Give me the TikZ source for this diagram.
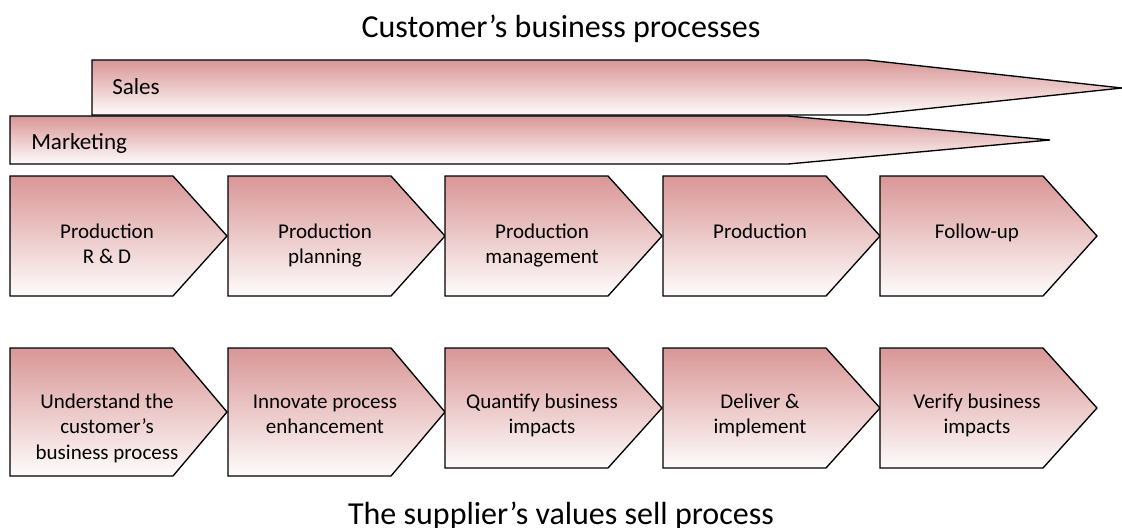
\documentclass[tikz,border=0pt]{standalone}
\usepackage{fontspec}
\setmainfont{Carlito}
\definecolor{rose}{RGB}{217,150,150}
\tikzset{
  band/.style={draw=black,line width=1pt,top color=rose,bottom color=white!97!rose},
  lbl/.style={align=center,inner sep=0pt,anchor=base,font=\fontsize{15.75}{19.1}\selectfont},
  bandlbl/.style={inner sep=0pt,anchor=base west,font=\fontsize{17.3}{21}\selectfont},
  heading/.style={inner sep=0pt,anchor=base,font=\fontsize{24}{29}\selectfont}
}
\begin{document}
\begin{tikzpicture}[x=0.75pt,y=-0.75pt]
\useasboundingbox (0,0) rectangle (1122,528);
\node[heading] (cust) at (561,38) {Customer’s business processes};
\shadedraw[band] (10,116) -- (788,116) -- (1050,140) -- (788,164) -- (10,164) -- cycle;
\shadedraw[band] (92,60) -- (867,60) -- (1122,88) -- (867,115) -- (92,115) -- cycle;
\node[bandlbl] (sales) at (112,94) {Sales};
\node[bandlbl] (mkt) at (31,150) {Marketing};
\foreach \x/\n/\t [count=\i] in {10/1/{Production\\R \& D}, 228/1/{Production\\planning},
    445/1/{Production\\management}, 663/0/Production, 880/0/Follow-up}{
  \shadedraw[band] (\x,176) -- ++(163,0) -- ++(54,60) -- ++(-54,60) -- ++(-163,0) -- cycle;
  \node[lbl] (prod\i) at (\x+97,238+25.5*\n) {\t};
}
\foreach \x/\h/\n/\t [count=\i] in {10/64/2/{Understand the\\customer’s\\business process},
    228/64/1/{Innovate process\\enhancement}, 445/60/1/{Quantify business\\impacts},
    663/60/1/{Deliver \&\\implement}, 880/60/1/{Verify business\\impacts}}{
  \shadedraw[band] (\x,348) -- ++(163,0) -- ++(54,\h) -- ++(-54,\h) -- ++(-163,0) -- cycle;
  \node[lbl] (sell\i) at (\x+97,408+25.5*\n) {\t};
}
\node[heading] (supp) at (561,524) {The supplier’s values sell process};
\end{tikzpicture}
\end{document}
